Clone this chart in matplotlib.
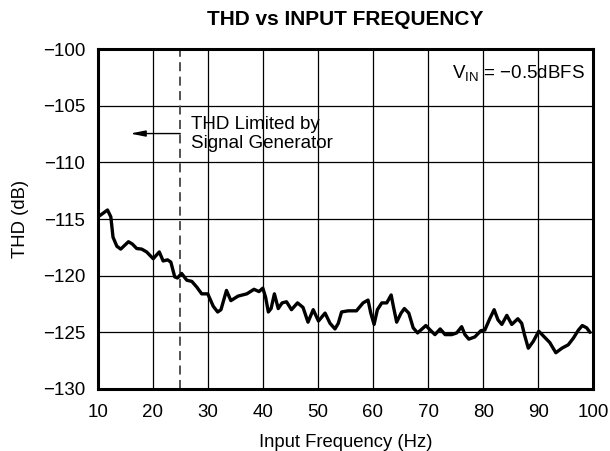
import matplotlib
matplotlib.use("Agg")
import matplotlib.pyplot as plt

plt.rcParams['font.family'] = ['Liberation Sans', 'DejaVu Sans']
plt.rcParams['mathtext.fontset'] = 'custom'
plt.rcParams['mathtext.rm'] = 'Liberation Sans'

# THD curve
freq = [10.1, 11.8, 12.4, 12.8, 13.5, 14.2, 15.6, 16.3, 17.1, 18.0, 18.9,
        20.1, 21.2, 21.9, 22.7, 23.3, 24.0, 24.5, 25.25, 26.2, 27.1, 28.0,
        28.9, 30.0, 31.0, 31.8, 32.4, 33.4, 34.2, 35.5, 37.1, 38.4, 39.3,
        40.0, 40.5, 41.0, 41.5, 42.1, 42.8, 43.5, 44.3, 45.2, 46.3, 47.3,
        48.2, 49.15, 50.1, 51.3, 52.2, 53.1, 53.7, 54.3, 55.5, 57.0, 58.2,
        59.1, 59.6, 60.2, 60.8, 61.6, 62.5, 63.3, 63.7, 64.3, 65.1, 65.7,
        66.5, 67.3, 68.1, 69.6, 70.5, 71.25, 72.2, 73.1, 74.3, 75.2, 76.1,
        76.7, 77.4, 78.5, 79.6, 80.3, 81.2, 82.0, 82.7, 83.4, 84.3, 85.2,
        86.3, 87.0, 87.5, 88.2, 89.1, 90.1, 91.1, 92.1, 93.2, 94.3, 95.45,
        96.4, 97.3, 98.0, 98.8, 99.4]
thd = [-114.8, -114.2, -114.8, -116.6, -117.4, -117.65, -117.0, -117.2, -117.6, -117.65, -117.9,
       -118.5, -117.9, -118.7, -118.6, -118.8, -120.1, -120.2, -119.8, -120.4, -120.5, -121.0,
       -121.6, -121.6, -122.7, -123.2, -123.0, -121.3, -122.2, -121.8, -121.6, -121.2, -121.4,
       -121.1, -121.9, -123.2, -122.9, -121.6, -122.9, -122.4, -122.3, -123.0, -122.4, -122.8,
       -124.1, -123.0, -124.0, -123.3, -124.2, -124.7, -124.2, -123.2, -123.1, -123.1, -122.4,
       -122.15, -123.3, -124.3, -123.0, -122.4, -122.4, -121.7, -122.7, -124.1, -123.3, -122.9,
       -123.3, -124.6, -125.05, -124.4, -124.85, -125.2, -124.7, -125.2, -125.2, -125.05, -124.5,
       -125.2, -125.6, -125.4, -124.85, -124.8, -123.8, -123.0, -123.9, -124.3, -123.5, -124.3,
       -123.8, -124.2, -125.2, -126.4, -125.8, -124.9, -125.4, -125.9, -126.8, -126.4, -126.1,
       -125.5, -124.8, -124.4, -124.6, -125.0]

xticks = [10, 20, 30, 40, 50, 60, 70, 80, 90, 100]
yticks = [-130, -125, -120, -115, -110, -105, -100]
limit_freq = 25

fig = plt.figure(figsize=(6.1, 4.51), dpi=100)
ax = fig.add_axes([0.160, 0.1375, 0.8126, 0.7535])

ax.plot(freq, thd, color='black', lw=2.4, solid_joinstyle='round', solid_capstyle='round', zorder=3)
ax.axvline(limit_freq, color='#444444', lw=1.3, ls=(0, (5, 3)), zorder=2)

ax.annotate('', xy=(15.9, -107.45), xytext=(limit_freq, -107.45),
            arrowprops=dict(arrowstyle='-|>,head_length=0.9,head_width=0.18',
                            color='black', lw=1.0, shrinkA=0, shrinkB=0))
ax.text(27.0, -107.5, 'THD Limited by\nSignal Generator', fontsize=13.5,
        ha='left', va='center', linespacing=1.15)
ax.text(98.5, -102.1, r'$\mathregular{V_{IN}}$ = −0.5dBFS', fontsize=13.5,
        ha='right', va='center')

ax.set_xlim(10, 100)
ax.set_ylim(-130, -100)
ax.set_xticks(xticks)
ax.set_yticks(yticks)
ax.set_yticklabels([str(v).replace('-', '−') for v in yticks])
ax.grid(True, color='black', lw=0.9)
ax.tick_params(length=0, labelsize=13.5)
ax.tick_params(axis='x', pad=11)
ax.tick_params(axis='y', pad=9)
for s in ax.spines.values():
    s.set_linewidth(2.2)

ax.set_xlabel('Input Frequency (Hz)', fontsize=13.3, labelpad=9)
ax.set_ylabel('THD (dB)', fontsize=13.3, labelpad=10)
fig.suptitle('THD vs INPUT FREQUENCY', fontsize=15, fontweight='bold', x=0.566, y=0.978)

fig.savefig('out.png', dpi=100)
